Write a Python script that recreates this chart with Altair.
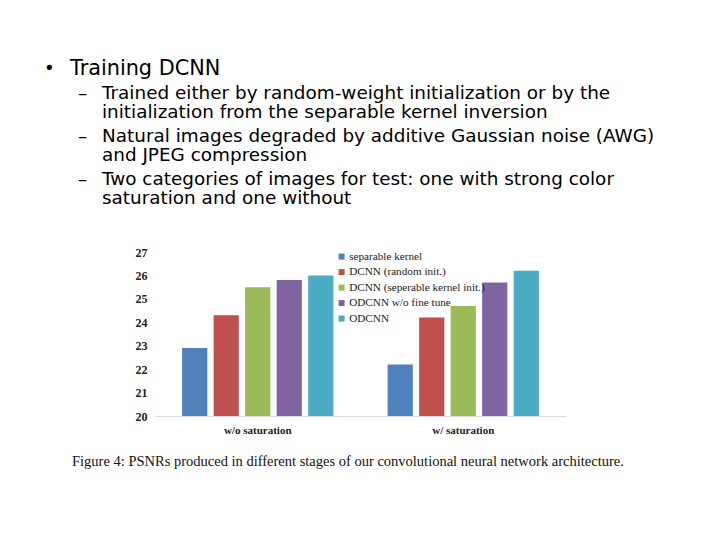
import altair as alt
import pandas as pd

groups = ["w/o saturation", "w/ saturation"]
methods = ["separable kernel", "DCNN (random init.)", "DCNN (seperable kernel init.)",
           "ODCNN w/o fine tune", "ODCNN"]
colors = ["#4F81BD", "#C0504D", "#9BBB59", "#8064A2", "#4BACC6"]
psnr_wo = [22.9, 24.3, 25.5, 25.8, 26.0]
psnr_w = [22.2, 24.2, 24.7, 25.7, 26.2]
y_ticks = [20, 21, 22, 23, 24, 25, 26, 27]

heading = "Training DCNN"
sub_bullets = [
    ["Trained either by random-weight initialization or by the",
     "initialization from the separable kernel inversion"],
    ["Natural images degraded by additive Gaussian noise (AWG)",
     "and JPEG compression"],
    ["Two categories of images for test: one with strong color",
     "saturation and one without"],
]
caption = "Figure 4: PSNRs produced in different stages of our convolutional neural network architecture."

rows = []
for g, vals in zip(groups, [psnr_wo, psnr_w]):
    for m, v in zip(methods, vals):
        rows.append({"group": g, "method": m, "psnr": v})
df = pd.DataFrame(rows)

PL, PT = 155, 252  # plot origin on the page

bars = alt.Chart(df).mark_bar().encode(
    x=alt.X("group:N", sort=groups, title=None,
            scale=alt.Scale(paddingInner=0, paddingOuter=0),
            axis=alt.Axis(labelAngle=0, ticks=False, domainColor="#D9D9D9",
                          labelFont="Liberation Serif", labelFontWeight="bold",
                          labelFontSize=11, labelColor="#222", labelPadding=8)),
    xOffset=alt.XOffset("method:N", sort=methods,
                        scale=alt.Scale(paddingInner=0.2, paddingOuter=0.86)),
    y=alt.Y("psnr:Q", title=None,
            scale=alt.Scale(domain=[20, 27], zero=False, nice=False),
            axis=alt.Axis(values=y_ticks, grid=False, domain=False, ticks=False,
                          labelFont="Liberation Serif", labelFontWeight="bold",
                          labelFontSize=12, labelColor="#222", labelPadding=8)),
    y2=alt.datum(20),
    color=alt.Color("method:N", sort=methods,
                    scale=alt.Scale(domain=methods, range=colors),
                    legend=alt.Legend(title=None, orient="none", legendX=181, legendY=-1,
                                      symbolType="square", symbolSize=36,
                                      symbolStrokeWidth=0,
                                      labelFont="Liberation Serif", labelFontSize=11.2,
                                      labelColor="#222", rowPadding=3.5, labelOffset=2)),
)

layers = [bars]


def txt(s, x, y, size, font="DejaVu Sans", color="#000"):
    return alt.Chart(pd.DataFrame({"t": [s]})).mark_text(
        align="left", baseline="middle", font=font, fontSize=size, color=color
    ).encode(text="t:N", x=alt.value(x - PL), y=alt.value(y - PT))


layers.append(txt("•", 44, 69, 18))
layers.append(txt(heading, 70, 69, 20.8))
ys = [[93, 112], [136, 155], [179, 198]]
for lines, yy in zip(sub_bullets, ys):
    layers.append(txt("–", 78, yy[0], 18.4))
    for line, y in zip(lines, yy):
        layers.append(txt(line, 102, y, 18.4))
layers.append(txt(caption, 72, 462, 14.5, font="Liberation Serif", color="#111"))

chart = alt.layer(*layers).properties(
    width=411, height=164,
    autosize=alt.AutoSizeParams(type="none"),
    padding={"left": PL - 8, "top": PT - 8, "right": 704 - (PL - 8) - 411,
             "bottom": 524 - (PT - 8) - 164},
    background="white",
).configure_view(stroke=None)

chart.save("out.html", embed_options={"renderer": "svg", "actions": False})
